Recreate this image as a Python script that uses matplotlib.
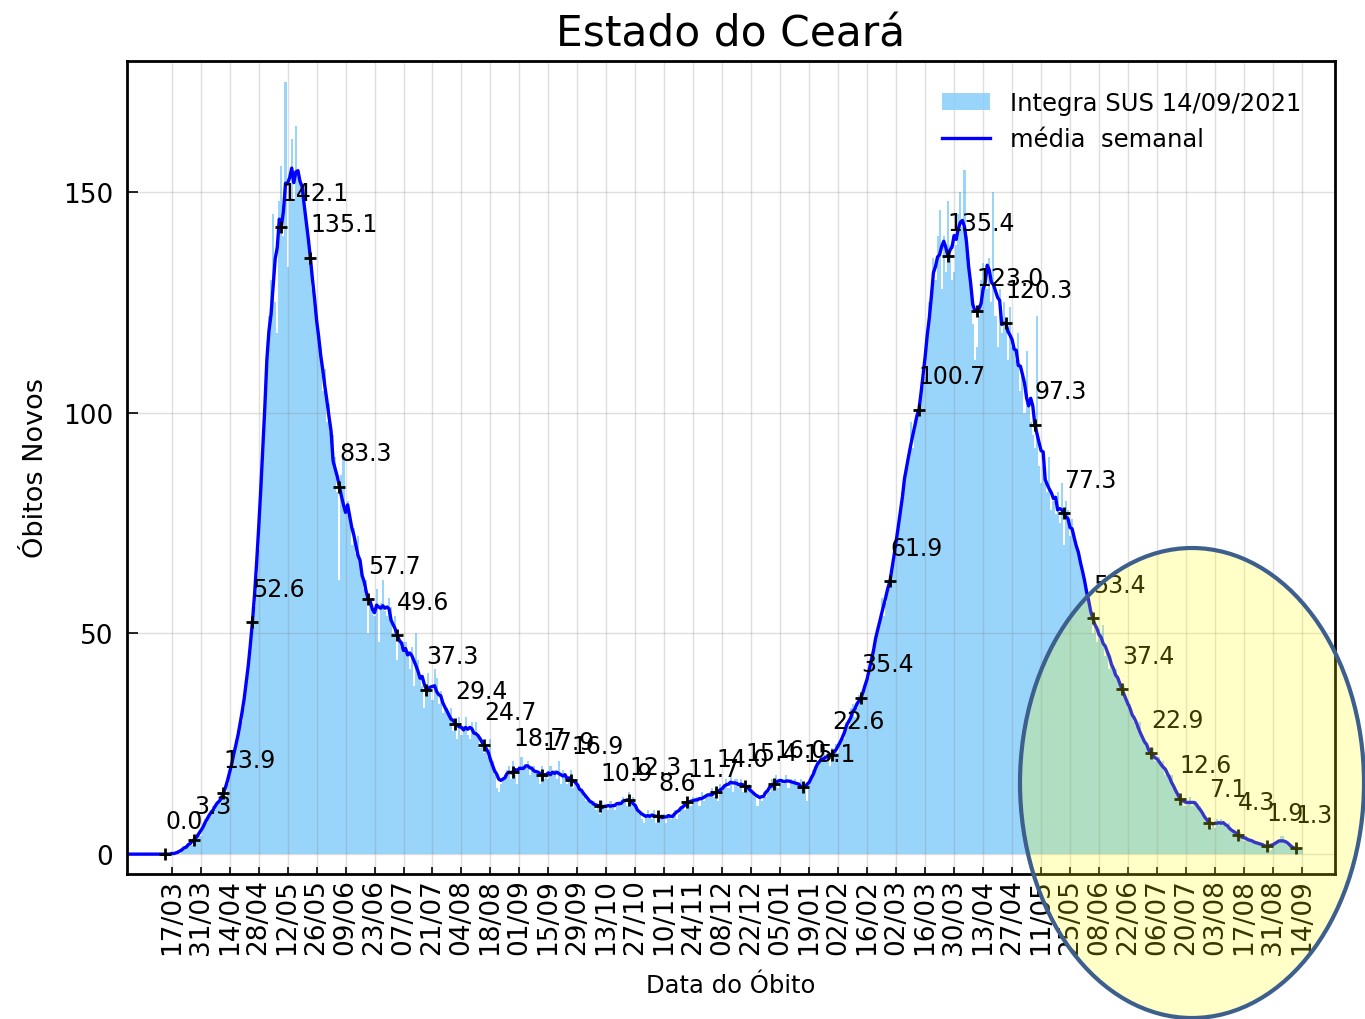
import numpy as np
import pandas as pd
import matplotlib
matplotlib.use('Agg')
import matplotlib.pyplot as plt
import matplotlib.dates as mdates
from matplotlib.patches import Ellipse

# obitos diarios, uma linha por semana (7 dias), a partir de 19/02/2020
inicio = '2020-02-19'
obitos_semana = [
    [0, 0, 0, 0, 0, 0, 0],               # 19/02/2020
    [0, 0, 0, 0, 0, 0, 0],               # 26/02
    [0, 0, 0, 0, 0, 0, 0],               # 04/03
    [0, 0, 0, 0, 0, 0, 0],               # 11/03
    [0, 0, 1, 0, 1, 1, 2],               # 18/03
    [2, 3, 2, 4, 3, 5, 4],               # 25/03
    [6, 8, 7, 9, 10, 11, 10],            # 01/04
    [11, 12, 13, 14, 13, 16, 18],        # 08/04
    [20, 23, 26, 27, 29, 30, 33],        # 15/04
    [38, 42, 47, 53, 56, 63, 69],        # 22/04
    [80, 92, 103, 113, 122, 130, 145],   # 29/04
    [125, 118, 148, 156, 140, 175, 133], # 06/05
    [150, 162, 148, 165, 155, 152, 150], # 13/05
    [152, 145, 140, 136, 128, 125, 120], # 20/05
    [118, 115, 105, 110, 98, 102, 94],   # 27/05
    [95, 90, 82, 62, 86, 90, 78],        # 03/06
    [80, 76, 70, 74, 68, 72, 66],        # 10/06
    [64, 60, 62, 50, 58, 56, 54],        # 17/06
    [60, 48, 57, 62, 55, 54, 58],        # 24/06
    [56, 50, 54, 44, 48, 47, 48],        # 01/07
    [48, 46, 42, 47, 38, 50, 44],        # 08/07
    [40, 38, 33, 36, 41, 38, 35],        # 15/07
    [42, 40, 34, 37, 32, 33, 33],        # 22/07
    [31, 33, 28, 30, 26, 31, 27],        # 29/07
    [29, 31, 27, 26, 30, 28, 30],        # 05/08
    [27, 24, 26, 23, 25, 22, 26],        # 12/08
    [21, 18, 15, 14, 16, 17, 18],        # 19/08
    [19, 20, 17, 21, 18, 16, 20],        # 26/08
    [22, 19, 20, 21, 18, 20, 20],        # 02/09
    [19, 18, 16, 20, 17, 18, 17],        # 09/09
    [20, 18, 19, 17, 21, 16, 19],        # 16/09
    [18, 16, 17, 19, 15, 17, 16],        # 23/09
    [16, 14, 13, 12, 13, 12, 12],        # 30/09
    [12, 10, 11, 9, 12, 11, 11],         # 07/10
    [10, 12, 11, 10, 11, 12, 11],        # 14/10
    [13, 12, 11, 14, 12, 13, 11],        # 21/10
    [10, 9, 8, 7, 9, 10, 9],             # 28/10
    [8, 10, 7, 9, 8, 9, 9],              # 04/11
    [7, 9, 8, 9, 10, 8, 9],              # 11/11
    [11, 12, 10, 13, 12, 11, 13],        # 18/11
    [12, 13, 11, 14, 12, 13, 13],        # 25/11
    [14, 15, 13, 14, 12, 16, 14],        # 02/12
    [16, 17, 15, 18, 14, 17, 17],        # 09/12
    [15, 17, 14, 16, 15, 16, 15],        # 16/12
    [14, 13, 11, 13, 12, 14, 13],        # 23/12
    [15, 14, 17, 16, 18, 15, 17],        # 30/12
    [17, 16, 18, 15, 17, 16, 17],        # 06/01/2021
    [16, 15, 17, 14, 16, 12, 16],        # 13/01
    [17, 19, 20, 21, 22, 21, 23],        # 20/01
    [21, 23, 20, 24, 22, 25, 23],        # 27/01
    [25, 27, 26, 30, 29, 33, 34],        # 03/02
    [31, 33, 36, 34, 37, 38, 39],        # 10/02
    [40, 44, 46, 49, 52, 52, 58],        # 17/02
    [54, 57, 60, 62, 65, 66, 69],        # 24/02
    [74, 78, 82, 85, 88, 90, 98],        # 03/03
    [92, 96, 99, 101, 103, 106, 108],    # 10/03
    [118, 125, 128, 135, 130, 140, 146], # 17/03
    [128, 140, 132, 148, 138, 130, 132], # 24/03
    [138, 145, 150, 142, 155, 140, 135], # 31/03
    [128, 120, 112, 115, 122, 130, 134], # 07/04
    [132, 128, 135, 125, 150, 122, 115], # 14/04
    [128, 118, 125, 120, 112, 124, 115], # 21/04
    [115, 112, 118, 105, 110, 100, 114], # 28/04
    [102, 98, 95, 92, 122, 88, 84],      # 05/05
    [88, 84, 82, 90, 78, 80, 77],        # 12/05
    [82, 75, 84, 70, 80, 78, 72],        # 19/05
    [76, 72, 70, 68, 66, 65, 62],        # 26/05
    [60, 58, 55, 50, 52, 48, 51],        # 02/06
    [50, 52, 45, 46, 42, 44, 42],        # 09/06
    [42, 40, 38, 36, 38, 35, 33],        # 16/06
    [34, 32, 30, 29, 28, 30, 26],        # 23/06
    [25, 24, 23, 22, 24, 21, 21],        # 30/06
    [22, 20, 21, 18, 19, 17, 18],        # 07/07
    [15, 14, 13, 12, 12, 11, 11],        # 14/07
    [12, 13, 11, 12, 12, 11, 11],        # 21/07
    [9, 8, 7, 7, 6, 7, 6],               # 28/07
    [8, 7, 8, 7, 7, 6, 7],               # 04/08
    [5, 5, 4, 4, 5, 4, 3],               # 11/08
    [4, 3, 3, 3, 3, 3, 2],               # 18/08
    [2, 2, 2, 2, 2, 1, 2],               # 25/08
    [2, 3, 3, 4, 4, 3, 2],               # 01/09
    [2, 2, 1, 1, 1, 1, 1],               # 08/09
]

titulo = 'Estado do Ceará'
rotulo_barras = 'Integra SUS 14/09/2021'
rotulo_linha = 'média  semanal'
primeira_marca = '2020-03-14'
primeiro_tick = '2020-03-17'
ultimo_tick = '2021-09-14'

obitos = np.array(obitos_semana).ravel()
datas = pd.date_range(inicio, periods=len(obitos), freq='D')
serie = pd.Series(obitos, index=datas)
media = serie.rolling(7, center=True).mean()

# pontos marcados a cada 14 dias
marcas = pd.date_range(primeira_marca, datas[-4], freq='14D')
ticks = pd.date_range(primeiro_tick, ultimo_tick, freq='14D')

fig = plt.figure(figsize=(13.65, 10.2), dpi=100)
ax = fig.add_axes([127 / 1365, 1 - 875 / 1020, 1208 / 1365, 813 / 1020])

barras = ax.bar(datas, obitos, width=1.0, color='lightskyblue', alpha=0.85,
                linewidth=0, label=rotulo_barras)
linha, = ax.plot(media.index, media.values, color='blue', lw=2.4, label=rotulo_linha)
ax.plot(marcas, media[marcas].values, '+', color='black', ms=8, mew=2, zorder=3)
for d in marcas:
    v = media[d]
    ax.annotate('{:.1f}'.format(v), (d, v), xytext=(0, 19),
                textcoords='offset points', fontsize=17, zorder=4)

ax.set_xticks(ticks)
ax.xaxis.set_major_formatter(mdates.DateFormatter('%d/%m'))
ax.set_yticks([0, 50, 100, 150])
ax.set_xlim(pd.Timestamp('2020-02-24 10:00'), pd.Timestamp('2021-09-30'))
ax.set_ylim(-4.5, 179.7)

ax.tick_params(axis='x', direction='in', length=5, width=1.2, labelsize=19,
               labelrotation=90, pad=3)
ax.tick_params(axis='y', direction='in', length=8, width=1.2, labelsize=19, pad=10)
ax.grid(True, color='gray', alpha=0.25, lw=1)
for s in ax.spines.values():
    s.set_linewidth(2)

ax.set_title(titulo, fontsize=30.5, pad=11)
ax.set_xlabel('Data do Óbito', fontsize=17.5, labelpad=14)
ax.set_ylabel('Óbitos Novos', fontsize=19.5, labelpad=10)
ax.legend([barras, linha], [rotulo_barras, rotulo_linha], loc='upper right',
          bbox_to_anchor=(1 - 12 / 1208, 1 - 8 / 813), frameon=False,
          fontsize=17.5)

# destaque amarelo no fim da serie
elipse = Ellipse((1192 / 1365, 1 - 784 / 1020), 344 / 1365, 470 / 1020,
                 transform=fig.transFigure, facecolor=(1, 1, 0, 0.22),
                 edgecolor='#3c5f8d', lw=3, zorder=10)
fig.add_artist(elipse)

fig.savefig('out.png', dpi=100)
